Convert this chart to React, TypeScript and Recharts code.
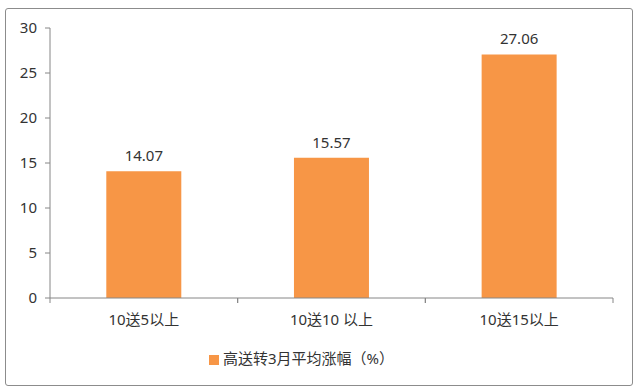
import React from 'react';
import { Bar, BarChart, LabelList, Legend, XAxis, YAxis } from 'recharts';

const categories = ['10送5以上', '10送10 以上', '10送15以上'];
const riseValues = [14.07, 15.57, 27.06];
const yTicks = [0, 5, 10, 15, 20, 25, 30];
const seriesName = '高送转3月平均涨幅（%）';

const data = categories.map((name, i) => ({ name, value: riseValues[i] }));

const FONT = '"Noto Sans", "Noto Sans CJK SC", sans-serif';
const AXIS = '#868686';
const ORANGE = '#F79646';
const HALF_BAND = (640 - 50 - 27) / 3 / 2;

const CategoryTick = (props: any) => {
  const { x, y, payload } = props;
  const half = payload && payload.offset ? payload.offset : HALF_BAND;
  return (
    <g>
      <line x1={x - half} y1={y - 6} x2={x - half} y2={y - 1} stroke={AXIS} />
      <line x1={x + half} y1={y - 6} x2={x + half} y2={y - 1} stroke={AXIS} />
      <text x={x} y={y + 10} dy="0.71em" textAnchor="middle" fill="#333" fontSize={15} fontFamily={FONT}>
        {payload.value}
      </text>
    </g>
  );
};

const App = () => {
  return (
    <div style={{ position: 'absolute', left: 0, top: 0, width: 640, height: 392, background: '#fff' }}>
      <div
        style={{
          position: 'absolute',
          left: 5,
          top: 8,
          width: 626,
          height: 376,
          border: '1px solid #8c8c8c',
          borderRadius: 3,
        }}
      />
      <BarChart
        width={640}
        height={392}
        data={data}
        margin={{ top: 28, right: 27, left: 0, bottom: 24 }}
        barCategoryGap="30%"
      >
        <XAxis
          dataKey="name"
          stroke={AXIS}
          tickLine={false}
          tickMargin={0}
          height={49}
          tick={<CategoryTick />}
          interval={0}
        />
        <YAxis
          width={50}
          domain={[0, 30]}
          ticks={yTicks}
          stroke={AXIS}
          tickSize={5}
          tickMargin={8}
          tick={{ fill: '#333', fontSize: 15, fontFamily: FONT }}
        />
        <Legend
          verticalAlign="bottom"
          iconType="square"
          iconSize={10}
          wrapperStyle={{ fontFamily: FONT, fontSize: 15 }}
          formatter={(v: string) => <span style={{ color: '#333' }}>{v}</span>}
        />
        <Bar dataKey="value" name={seriesName} fill={ORANGE} isAnimationActive={false}>
          <LabelList dataKey="value" position="top" offset={10} fill="#333" fontSize={15} fontFamily={FONT} />
        </Bar>
      </BarChart>
    </div>
  );
};

export default App;
